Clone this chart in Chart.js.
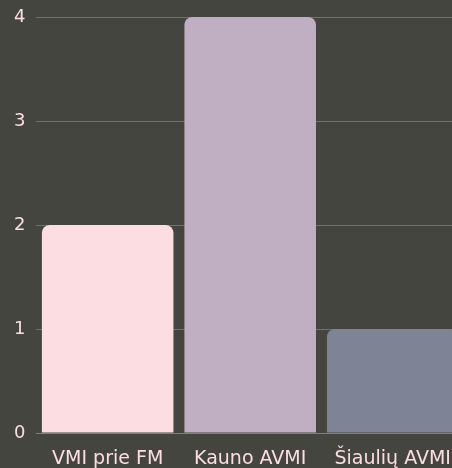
<!DOCTYPE html>
<html lang="lt">
<head>
    <meta charset="UTF-8">
    <title>AVMI</title>
    <script src="https://cdn.jsdelivr.net/npm/chart.js"></script>
    <style>
        html, body {
            margin: 0;
            padding: 0;
            background-color: #454540;
            overflow: hidden;
        }

        .chart-box {
            position: relative;
            width: 464px;
            height: 468px;
        }
    </style>
</head>
<body>
    <div class="chart-box">
        <canvas id="barChart"></canvas>
    </div>

    <script>
        const labels = ['VMI prie FM', 'Kauno AVMI', 'Šiaulių AVMI'];
        const counts = [2, 4, 1];
        const barColors = ['#fbdde2', '#c0aec2', '#7e8496'];
        const yTicks = [0, 1, 2, 3, 4];

        const textColor = '#fbdde2';
        const xFont = { family: '"DejaVu Sans", sans-serif', size: 19 };
        const yFont = { family: '"DejaVu Sans", sans-serif', size: 18 };

        new Chart(document.getElementById('barChart'), {
            type: 'bar',
            data: {
                labels: labels,
                datasets: [{
                    data: counts,
                    backgroundColor: barColors,
                    borderRadius: 8,
                    borderSkipped: 'start',
                    categoryPercentage: 1,
                    barPercentage: 0.923
                }]
            },
            options: {
                responsive: true,
                maintainAspectRatio: false,
                animation: false,
                layout: { padding: { top: 17, left: 0, right: 0, bottom: 0 } },
                plugins: {
                    legend: { display: false },
                    tooltip: { enabled: false }
                },
                scales: {
                    x: {
                        grid: { display: false, drawTicks: false },
                        border: { color: '#8a7c7e', width: 1 },
                        ticks: { color: textColor, font: xFont, padding: 15, maxRotation: 0 },
                        afterFit: (scale) => {
                            scale.height = 35;
                            scale.paddingLeft = 0;
                            scale.paddingRight = 0;
                        }
                    },
                    y: {
                        min: 0,
                        max: 4,
                        afterBuildTicks: (scale) => {
                            scale.ticks = yTicks.map(v => ({ value: v }));
                        },
                        grid: { color: '#75706b', drawTicks: false },
                        border: { display: false },
                        ticks: { color: textColor, font: yFont, padding: 11 },
                        afterFit: (scale) => {
                            scale.width = 36.4;
                            scale.paddingTop = 0;
                            scale.paddingBottom = 0;
                        }
                    }
                }
            }
        });
    </script>
</body>
</html>
